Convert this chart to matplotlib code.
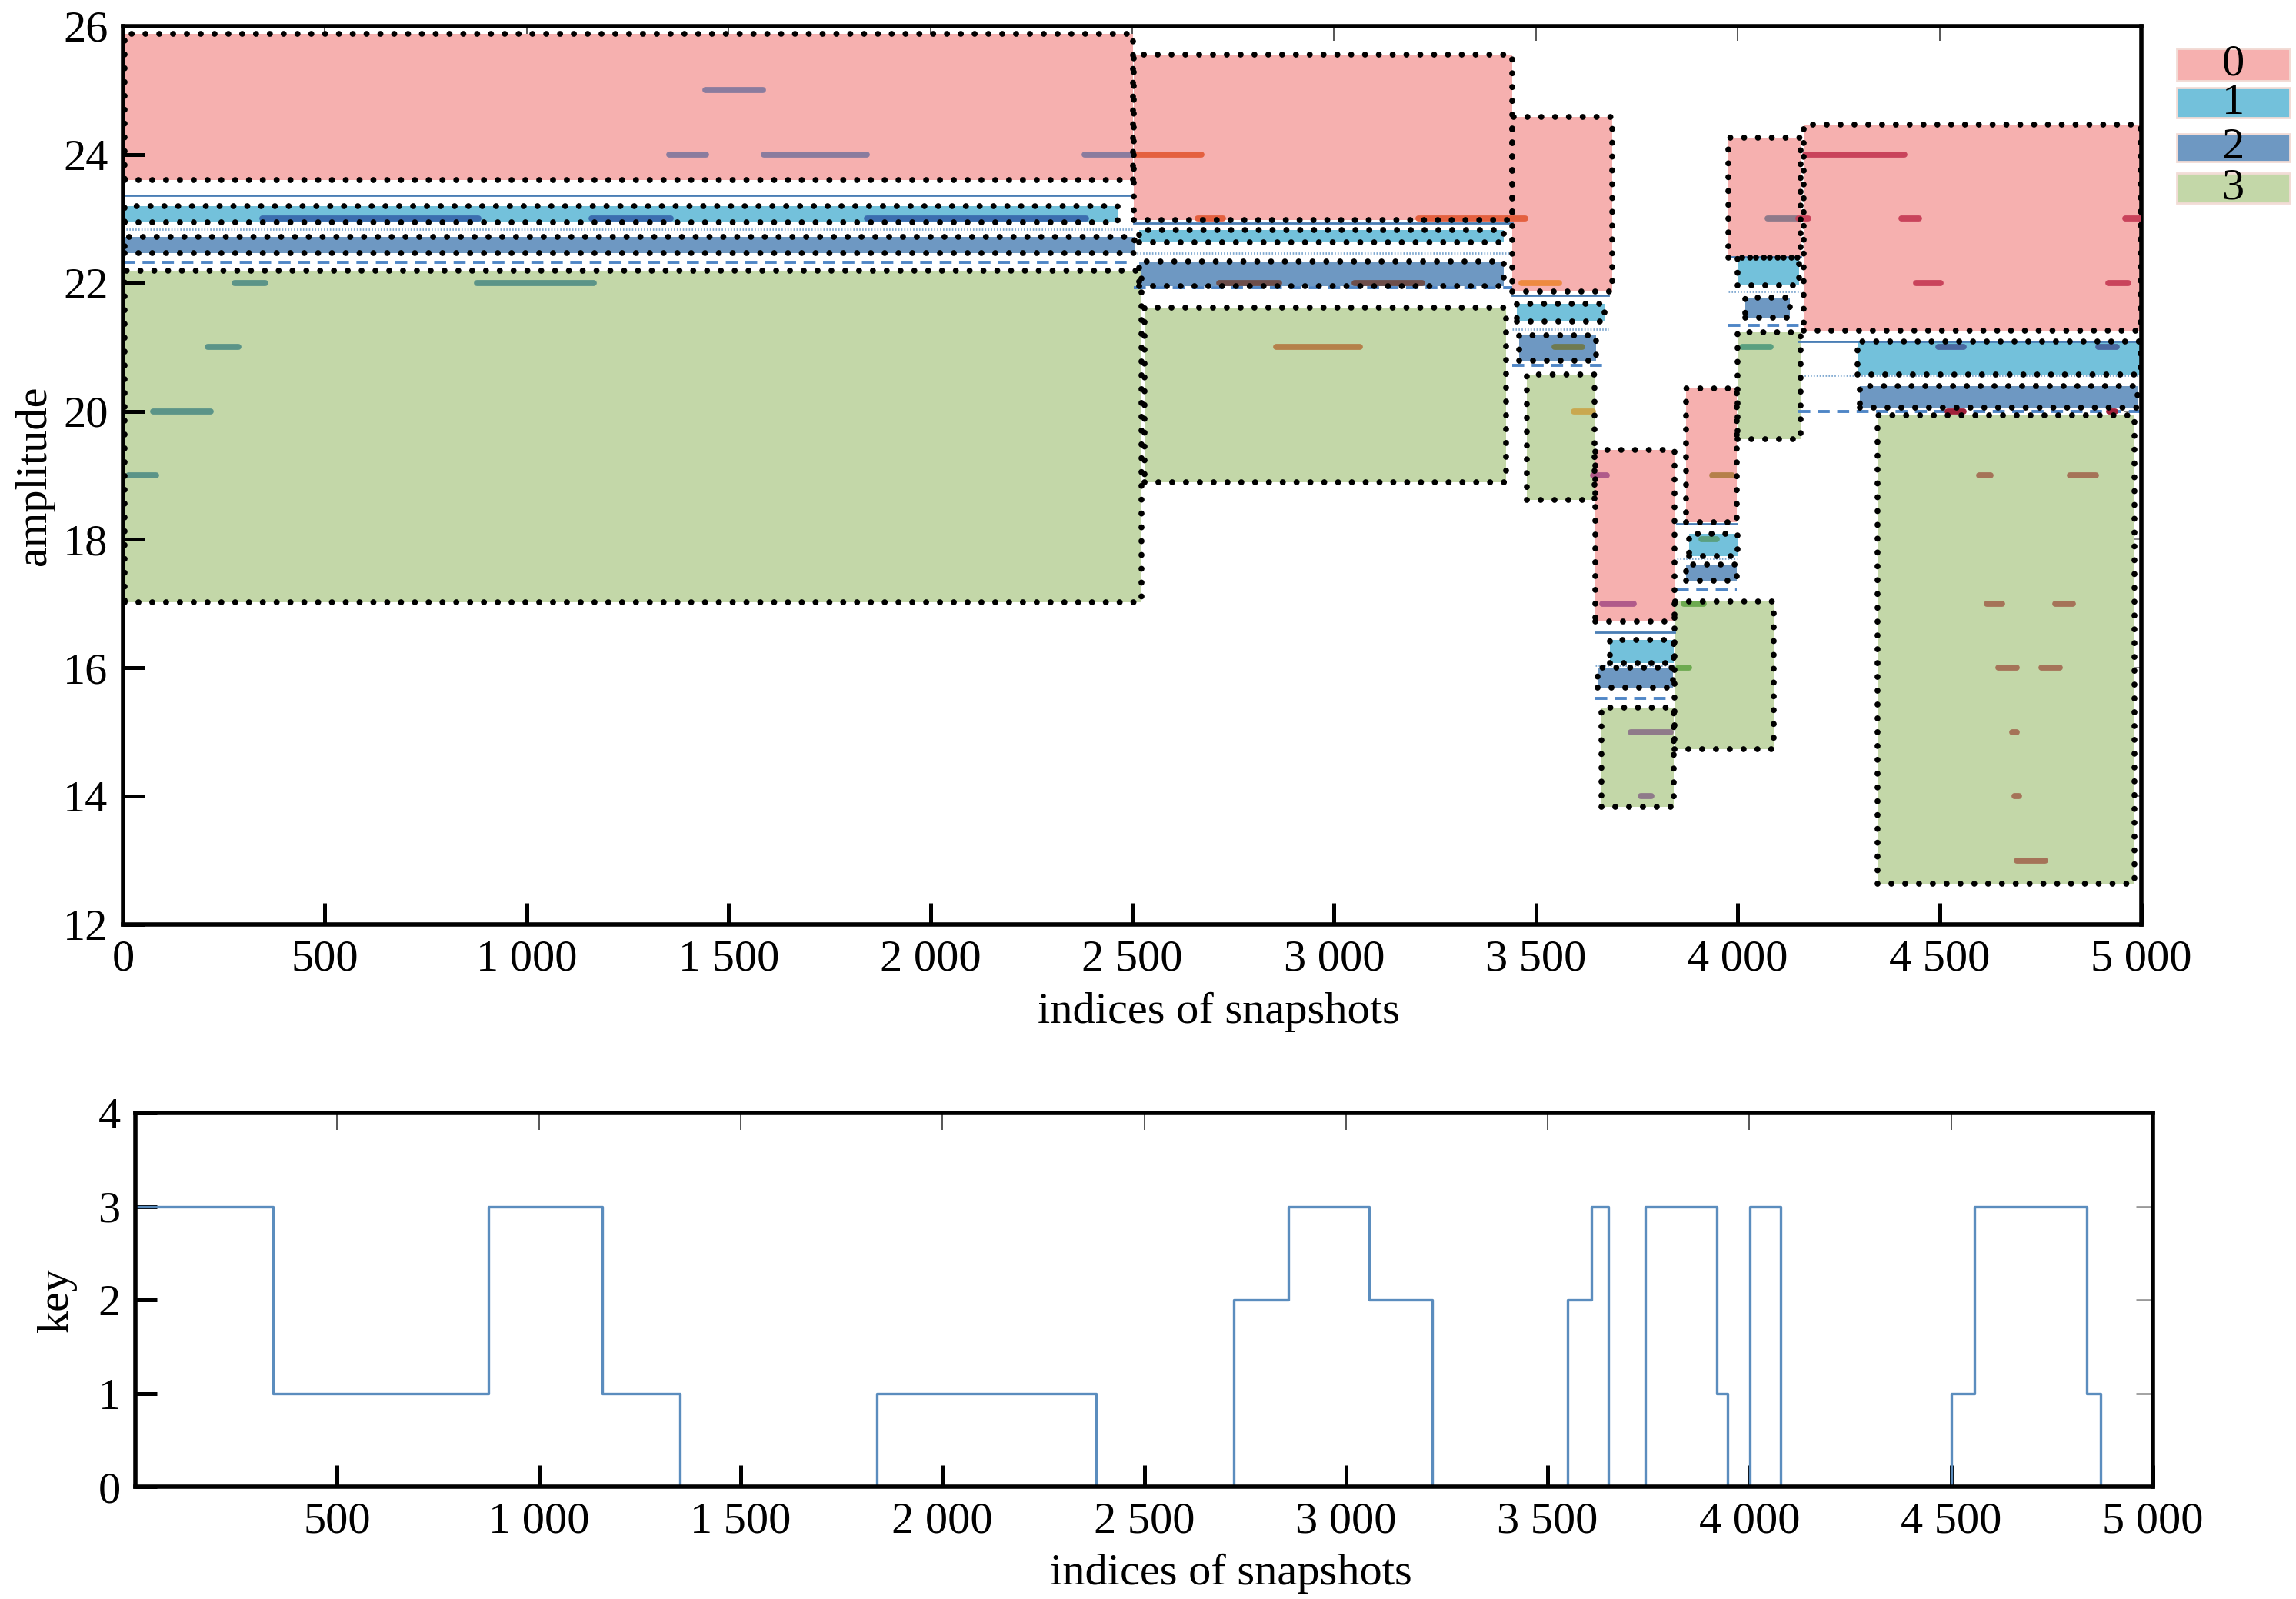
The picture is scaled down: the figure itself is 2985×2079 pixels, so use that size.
import numpy as np
import matplotlib.pyplot as plt
from matplotlib.patches import Rectangle

plt.rcParams['font.family'] = ['Liberation Serif', 'DejaVu Serif']

# cluster colours (key 0..3)
keys = ['0', '1', '2', '3']
key_colors = ['#F6B0AF', '#73C1DB', '#6E98C2', '#C3D7A8']

# boxes per key: (x0, x1, amp_low, amp_high), one per segment
boxes_0 = [(4, 2502, 23.60, 25.88), (2504, 3441, 22.98, 25.56), (3441, 3689, 21.86, 24.58),
           (3648, 3844, 16.72, 19.40), (3872, 3997, 18.27, 20.36), (3976, 4155, 22.39, 24.26),
           (4164, 4998, 21.25, 24.46)]
boxes_1 = [(4, 2463, 22.94, 23.20), (2517, 3420, 22.63, 22.82), (3453, 3670, 21.40, 21.67),
           (3684, 3841, 16.08, 16.43), (3880, 4000, 17.74, 18.09), (3999, 4153, 21.96, 22.39),
           (4297, 4998, 20.57, 21.08)]
boxes_2 = [(4, 2505, 22.47, 22.72), (2517, 3420, 21.95, 22.33), (3459, 3649, 20.79, 21.18),
           (3653, 3839, 15.69, 16.00), (3872, 3997, 17.36, 17.61), (4019, 4129, 21.46, 21.77),
           (4302, 4990, 20.06, 20.39)]
boxes_3 = [(4, 2523, 17.02, 22.19), (2530, 3426, 18.89, 21.61), (3477, 3645, 18.62, 20.57),
           (3662, 3841, 13.83, 15.38), (3844, 4090, 14.73, 17.03), (3999, 4155, 19.56, 21.23),
           (4346, 4983, 12.64, 19.94)]

# separator lines per segment
sep_x0 = [0, 2504, 3441, 3648, 3850, 3976, 4150]
sep_x1 = [2500, 3441, 3680, 3844, 3997, 4155, 4998]
solid_y = [23.36, 22.93, 21.80, 16.55, 18.24, 22.41, 21.09]
dotted_y = [22.84, 22.47, 21.28, 16.04, 17.70, 21.86, 20.56]
dashed_y = [22.32, 21.92, 20.72, 15.52, 17.21, 21.34, 20.00]

# snapshot strokes: x0, x1, amplitude, colour group
stroke_x0 = [1442, 1352, 1587, 2381, 2504, 345, 1161, 1842, 276, 876, 209, 74, 13,
             2662, 3209, 2715, 3050, 2856, 3465, 3547, 3594, 3664, 3642, 3735, 3760,
             3866, 3852, 3937, 3910, 4073, 4011, 4168, 4405, 4960, 4441, 4919, 4150,
             4497, 4894, 4520, 4920, 4598, 4822, 4617, 4787, 4645, 4752, 4680, 4685, 4691]
stroke_x1 = [1586, 1445, 1842, 2505, 2671, 880, 1357, 2386, 353, 1166, 285, 217, 81,
             2725, 3474, 2864, 3218, 3064, 3558, 3614, 3641, 3743, 3675, 3833, 3786,
             3916, 3880, 3986, 3948, 4147, 4082, 4414, 4449, 4998, 4502, 4968, 4175,
             4560, 4939, 4560, 4935, 4626, 4888, 4656, 4831, 4691, 4798, 4692, 4697, 4762]
stroke_y = [25, 24, 24, 24, 24, 23, 23, 23, 22, 22, 21, 20, 19,
            23, 23, 22, 22, 21, 22, 21, 20, 17, 19, 15, 14,
            17, 16, 19, 18, 23, 21, 24, 23, 23, 22, 22, 23,
            21, 21, 20, 20, 19, 19, 17, 17, 16, 16, 15, 14, 13]
stroke_grp = [0, 0, 0, 0, 3, 1, 1, 1, 2, 2, 2, 2, 2,
              3, 3, 4, 4, 5, 6, 7, 8, 9, 9, 10, 10,
              11, 11, 5, 12, 10, 12, 13, 13, 13, 13, 13, 13,
              14, 14, 15, 15, 16, 16, 16, 16, 16, 16, 16, 16, 16]
stroke_palette = ['#8A7C9E', '#3C6EB0', '#5B9488', '#E4603F', '#6E4E4A', '#B5804A',
                  '#EE8A40', '#6F7A50', '#C9A850', '#B05A8A', '#8F7A8A', '#6DAA50',
                  '#5AA080', '#C9435B', '#4A68A0', '#A0203A', '#A57358']

# key over snapshots (step changes)
key_x = [0, 342, 875, 1157, 1349, 1838, 2380, 2722, 2858, 3058, 3213, 3550, 3608, 3651,
         3741, 3920, 3946, 4002, 4078, 4501, 4557, 4836, 4870, 5000]
key_v = [3, 1, 3, 1, 0, 1, 0, 2, 3, 2, 0, 2, 3, 0, 3, 1, 0, 3, 0, 1, 3, 1, 0, 0]

xticks_top = [0, 500, 1000, 1500, 2000, 2500, 3000, 3500, 4000, 4500, 5000]
xticks_bot = xticks_top[1:]


def fmt(v):
    return f'{v:,}'.replace(',', ' ')


FS = 21
W, H = 2985, 2079
fig = plt.figure(figsize=(W / 200, H / 200), dpi=200)

ax = fig.add_axes([160 / W, 1 - 1202 / H, 2624 / W, 1168 / H])
dots = (0, (0.01, 2.3))
for boxes, col in zip([boxes_0, boxes_1, boxes_2, boxes_3], key_colors):
    for x0, x1, lo, hi in boxes:
        ax.add_patch(Rectangle((x0, lo), x1 - x0, hi - lo, facecolor=col,
                               edgecolor='none', zorder=1))
for i in range(len(sep_x0)):
    ax.plot([sep_x0[i], sep_x1[i]], [solid_y[i]] * 2, color='#4A7EB5', lw=1.0, zorder=2)
    ax.plot([sep_x0[i], sep_x1[i]], [dotted_y[i]] * 2, color='#7FA8D0', lw=1.0,
            ls=(0, (0.6, 0.8)), zorder=2)
    ax.plot([sep_x0[i], sep_x1[i]], [dashed_y[i]] * 2, color='#4F86C6', lw=1.4,
            ls=(0, (4, 2.5)), zorder=2)
for boxes in [boxes_0, boxes_1, boxes_2, boxes_3]:
    for x0, x1, lo, hi in boxes:
        ax.add_patch(Rectangle((x0, lo), x1 - x0, hi - lo, facecolor='none',
                               edgecolor='black', lw=2.8, ls=dots,
                               capstyle='round', zorder=4))
for x0, x1, y, g in zip(stroke_x0, stroke_x1, stroke_y, stroke_grp):
    ax.plot([x0, x1], [y, y], color=stroke_palette[g], lw=2.8,
            solid_capstyle='round', zorder=3)

ax.set_xlim(0, 5000)
ax.set_ylim(12, 26)
ax.set_xticks(xticks_top)
ax.set_xticklabels([fmt(v) for v in xticks_top])
ax.set_yticks(np.arange(12, 27, 2))
ax.tick_params(direction='in', length=10, width=1.8, labelsize=FS, pad=7)
for s in ax.spines.values():
    s.set_linewidth(2.0)
ax.set_xlabel('indices of snapshots', fontsize=FS)
ax.xaxis.set_label_coords(0.543, -0.075)
ax.set_ylabel('amplitude', fontsize=FS, labelpad=4)
sx = ax.secondary_xaxis('top')
sx.set_xticks(xticks_top)
sx.tick_params(direction='in', length=7, width=0.7, color='#555555', labeltop=False)
sy = ax.secondary_yaxis('right')
sy.set_yticks(np.arange(14, 26, 2))
sy.tick_params(direction='in', length=8, width=0.7, color='#888888', labelright=False)
for s in list(sx.spines.values()) + list(sy.spines.values()):
    s.set_visible(False)

# legend patches with centred labels
leg_top = [63, 114, 174, 225]
leg_bot = [105, 153, 210, 264]
for k, col, t, b in zip(keys, key_colors, leg_top, leg_bot):
    fig.patches.append(Rectangle((2830 / W, 1 - b / H), 147 / W, (b - t) / H,
                                 transform=fig.transFigure, facecolor=col,
                                 edgecolor='#F2DCD6', lw=1.0))
    fig.text(2903 / W, 1 - (t + b) / 2 / H, k, ha='center', va='center', fontsize=FS)

# bottom panel: key
bx = fig.add_axes([176 / W, 1 - 1933 / H, 2623 / W, 486 / H])
bx.step(key_x, key_v, where='post', color='#5B8DBE', lw=1.2)
bx.set_xlim(0, 5000)
bx.set_ylim(0, 4)
bx.set_xticks(xticks_bot)
bx.set_xticklabels([fmt(v) for v in xticks_bot])
bx.set_yticks([0, 1, 2, 3, 4])
bx.tick_params(direction='in', length=10, width=1.8, labelsize=FS, pad=7)
for s in bx.spines.values():
    s.set_linewidth(2.0)
bx.set_xlabel('indices of snapshots', fontsize=FS)
bx.xaxis.set_label_coords(0.543, -0.178)
bx.set_ylabel('key', fontsize=FS, labelpad=10)
bsx = bx.secondary_xaxis('top')
bsx.set_xticks(xticks_bot)
bsx.tick_params(direction='in', length=8, width=0.7, color='#555555', labeltop=False)
bsy = bx.secondary_yaxis('right')
bsy.set_yticks([1, 2, 3])
bsy.tick_params(direction='in', length=8, width=1.0, color='#999999', labelright=False)
for s in list(bsx.spines.values()) + list(bsy.spines.values()):
    s.set_visible(False)

fig.savefig('out.png', dpi=200)
